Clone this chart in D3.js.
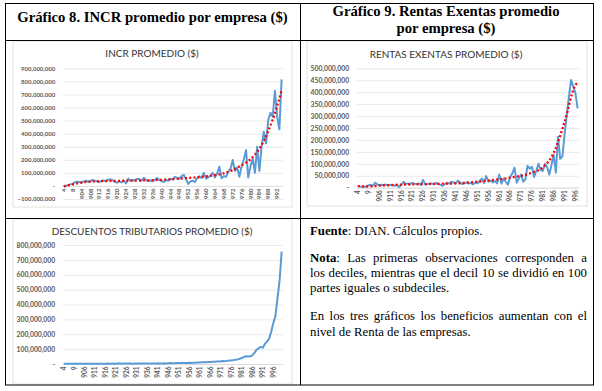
<!DOCTYPE html>
<html><head><meta charset="utf-8">
<script src="https://cdn.jsdelivr.net/npm/d3@7/dist/d3.min.js"></script>
<style>
body{margin:0;background:#fff;}
#wrap{position:relative;width:602px;height:391px;overflow:hidden;background:#fff;}
svg{position:absolute;left:0;top:0;}
.ln{position:absolute;left:310px;width:277px;font-family:"Liberation Serif","Times New Roman",serif;font-size:12.8px;line-height:15.3px;white-space:nowrap;color:#000;}
.j{text-align:justify;text-align-last:justify;}
</style></head><body>
<div id="wrap"><svg id="svg" width="602" height="391"></svg>
<div class="ln" style="top:223.5px"><b>Fuente</b>: DIAN. Cálculos propios.</div>
<div class="ln j" style="top:251px"><b>Nota</b>: Las primeras observaciones corresponden a</div>
<div class="ln j" style="top:266.2px">los deciles, mientras que el decil 10 se dividió en 100</div>
<div class="ln" style="top:281.4px">partes iguales o subdeciles.</div>
<div class="ln j" style="top:309px">En los tres gráficos los beneficios aumentan con el</div>
<div class="ln" style="top:324.5px">nivel de Renta de las empresas.</div>
</div>
<script>
// ---------- DATA ----------
const deciles = ["4","5","6","7","8","9"];
const subdeciles = d3.range(902, 1001).map(String);
const categories = deciles.concat(subdeciles);

// INCR promedio (millones de $)
const incrValues = [-6,0,8,12,18,28,32,30,25,35,40,32,38,45,38,35,30,40,42,38,48,50,42,30,25,35,28,40,20,55,40,45,42,55,52,40,62,45,38,42,35,48,60,45,38,30,45,40,55,48,70,62,55,75,85,50,15,35,40,30,60,75,60,100,55,65,80,100,65,95,147,58,75,70,108,130,198,115,140,70,150,200,275,64,150,210,100,300,115,300,415,325,504,560,530,728,530,433,815];
const incrTrendCats = ["4","8","904","908","912","916","920","924","928","932","936","940","944","948","952","956","960","964","968","972","976","980","984","988","992","994"];
const incrTrendVals = [-3,12,26,33,36,38,39,40,41,42,44,47,51,56,61,66,73,82,97,122,158,205,285,420,610,730];
const incrTicks = [-100,0,100,200,300,400,500,600,700,800,900];

// Rentas exentas promedio (millones de $)
const rentasValues = [8,5,4,3,6,10,12,8,21,14,10,12,11,13,9,12,10,8,12,3,10,25,15,18,14,20,17,15,18,12,33,13,15,17,18,14,20,15,12,8,16,20,18,25,22,18,30,22,15,18,22,17,20,14,22,18,28,38,20,49,25,30,22,28,18,55,17,38,25,13,45,60,84,21,38,55,25,35,92,80,88,45,70,100,75,70,100,85,55,95,138,63,213,121,130,220,304,380,451,425,395,332];
const rentasTrendCats = ["4","9","906","911","916","921","926","931","936","941","946","951","956","961","966","971","976","981","986","991","996","997"];
const rentasTrendVals = [7,5,9,11,13,14,15,16,17,18,21,25,30,35,42,50,63,85,145,275,430,440];
const rentasTicks = [0,50,100,150,200,250,300,350,400,450,500];

// Descuentos tributarios promedio (millones de $)
const descValues = [1,1,2,1,2,2,1,2,2,1,2,2,1,2,2,2,2,1,2,2,2,3,2,2,3,2,3,3,2,3,3,3,3,2,3,3,3,4,3,3,4,3,4,4,4,5,4,4,5,4,5,6,5,5,6,6,6,7,6,7,8,7,8,9,10,10,11,12,12,13,14,15,15,17,16,18,20,19,21,23,24,26,28,31,35,40,48,52,50,52,58,75,95,105,115,110,135,150,170,215,275,320,440,560,755];
const descTicks = [0,100,200,300,400,500,600,700,800];

// ---------- DRAW ----------
const svg = d3.select("#svg");
const labelFont = "Lato, 'Open Sans', sans-serif";

function fmt(v){ return v === 0 ? "-" : d3.format(",")(v*1e6); }

function drawChart(c){
  const g = svg.append("g");
  g.append("rect").attr("x",c.box[0]).attr("y",c.box[1]).attr("width",c.box[2]).attr("height",c.box[3])
    .attr("fill","#fff").attr("stroke","#d9d9d9").attr("stroke-width",0.8);
  g.append("text").attr("x",c.titleX).attr("y",c.titleY).attr("text-anchor","middle")
    .attr("font-family",labelFont).attr("font-size",c.titleSize).attr("fill","#333")
    .text(c.title);
  const cats = categories.slice(0, c.values.length);
  const x = d3.scaleBand().domain(cats).range([c.left, c.right]);
  const cx = d => x(d) + x.bandwidth()/2;
  const y = d3.scaleLinear().domain([c.ticks[0], c.ticks[c.ticks.length-1]]).range([c.bottom, c.top]);

  // gridlines + y labels
  const ya = g.append("g").attr("transform",`translate(${c.left},0)`)
    .call(d3.axisLeft(y).tickValues(c.ticks).tickSize(-(c.right-c.left)).tickPadding(7.5).tickFormat(fmt));
  ya.select(".domain").remove();
  ya.selectAll("line").attr("stroke","#e3e3e3").attr("stroke-width",0.8);
  ya.selectAll("text").attr("font-family",labelFont).attr("font-size",c.ySize).attr("font-weight",700).attr("fill","#595959");

  // x axis at zero
  const step = c.labelStep;
  const xa = g.append("g").attr("transform",`translate(0,${y(0)})`)
    .call(d3.axisBottom(x).tickValues(cats.filter((d,i)=>i%step===0)).tickSize(0));
  xa.select(".domain").attr("stroke","#d9d9d9").attr("stroke-width",0.8);
  xa.selectAll("text").attr("transform","rotate(-90)").attr("x",-2.5).attr("y",0).attr("dy","0.35em")
    .style("text-anchor","end").attr("font-family",labelFont).attr("font-size",c.xSize).attr("font-weight",700).attr("fill","#595959");

  // series line
  const line = d3.line().x((d,i)=>cx(cats[i])).y(d=>y(d));
  g.append("path").datum(c.values).attr("d",line).attr("fill","none")
    .attr("stroke","#5b9bd5").attr("stroke-width",c.lineW).attr("stroke-linejoin","round");

  // trend line
  if (c.trendCats){
    const pts = c.trendCats.map((k,i)=>[cx(k), y(c.trendVals[i])]);
    g.append("path").datum(pts).attr("d",d3.line().curve(d3.curveMonotoneX)).attr("fill","none")
      .attr("stroke","#ff0000").attr("stroke-width",2.3).attr("stroke-dasharray","2,2.2");
  }
}

drawChart({box:[13,41,279,166], title:"INCR PROMEDIO ($)", titleX:152, titleY:57, titleSize:10,
  values:incrValues, ticks:incrTicks, left:62.7, right:282.7, top:68.3, bottom:199,
  ySize:6, xSize:6, labelStep:4, lineW:2, trendCats:incrTrendCats, trendVals:incrTrendVals});

drawChart({box:[307,41,280,165], title:"RENTAS EXENTAS PROMEDIO ($)", titleX:446, titleY:58, titleSize:10,
  values:rentasValues, ticks:rentasTicks, left:356.7, right:578.7, top:68.3, bottom:187.7,
  ySize:6.8, xSize:6.5, labelStep:5, lineW:2, trendCats:rentasTrendCats, trendVals:rentasTrendVals});

drawChart({box:[13,219,279,165], title:"DESCUENTOS TRIBUTARIOS PROMEDIO ($)", titleX:152, titleY:234.5, titleSize:10,
  values:descValues, ticks:descTicks, left:62.7, right:282.7, top:245, bottom:364,
  ySize:6.8, xSize:6.5, labelStep:5, lineW:2});

// ---------- TABLE ----------
const T = svg.append("g").attr("stroke","#000").attr("stroke-width",1).attr("fill","none");
T.append("rect").attr("x",5.5).attr("y",3.5).attr("width",588).attr("height",381.5);
T.append("line").attr("x1",5.5).attr("x2",593.5).attr("y1",40.5).attr("y2",40.5);
T.append("line").attr("x1",5.5).attr("x2",593.5).attr("y1",218.5).attr("y2",218.5);
T.append("line").attr("x1",300.5).attr("x2",300.5).attr("y1",3.5).attr("y2",385);

const serif = "'Liberation Serif','Times New Roman',serif";
svg.append("text").attr("x",152.5).attr("y",22).attr("text-anchor","middle").attr("font-family",serif)
  .attr("font-weight",700).attr("font-size",14.7).text("Gráfico 8. INCR promedio por empresa ($)");
svg.append("text").attr("x",446).attr("y",16).attr("text-anchor","middle").attr("font-family",serif)
  .attr("font-weight",700).attr("font-size",14.7).text("Gráfico 9. Rentas Exentas promedio");
svg.append("text").attr("x",446).attr("y",33).attr("text-anchor","middle").attr("font-family",serif)
  .attr("font-weight",700).attr("font-size",14.7).text("por empresa ($)");
</script>
</body></html>
